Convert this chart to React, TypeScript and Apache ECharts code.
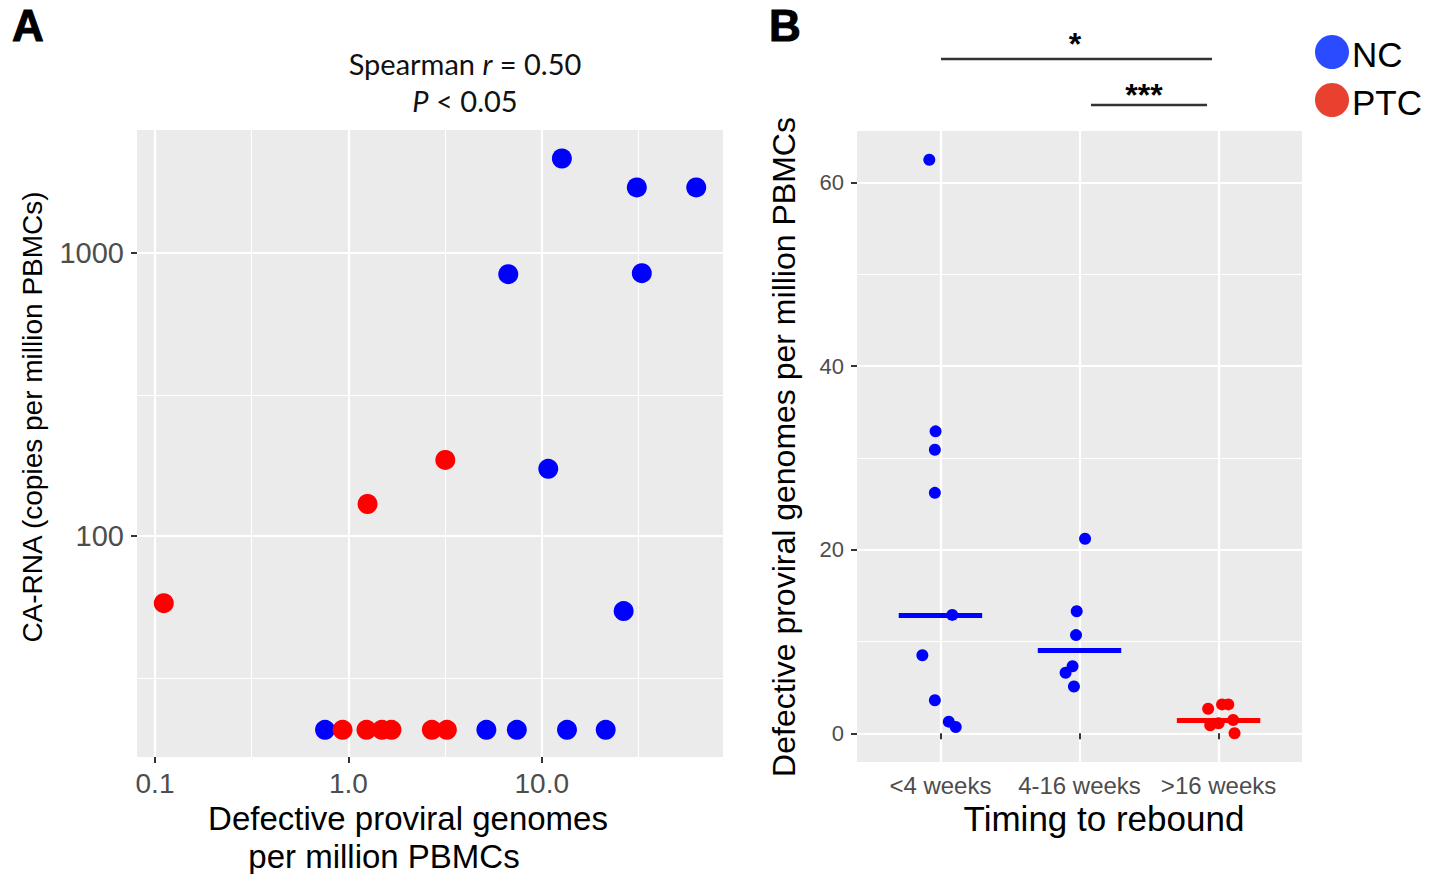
import React, { useEffect, useRef } from "react";
import * as echarts from "echarts";

// ---------- Panel A data ----------
const ncDefective = [12.7, 31, 62.9, 6.71, 32.9, 10.8, 26.5, 0.757, 5.17, 7.43, 13.5, 21.4];
const ncCaRna = [2160, 1707, 1707, 843, 850, 173, 54.4, 20.7, 20.7, 20.7, 20.7, 20.7];
const ptcDefective = [0.111, 1.256, 3.17, 0.933, 1.24, 1.49, 1.67, 2.7, 3.23];
const ptcCaRna = [58, 130, 186, 20.7, 20.7, 20.7, 20.7, 20.7, 20.7];
const xTicksA = [0.1, 1, 10];
const xMinorA = [0.316, 3.16, 31.6];
const yTicksA = [100, 1000];
const yMinorA = [31.6, 316];
const xRangeA = [0.0807, 86.5];
const yRangeA = [16.6, 2723];

// ---------- Panel B data ----------
const timingCategories = ["<4 weeks", "4-16 weeks", ">16 weeks"];
const ncGroup = [1, 1, 1, 1, 1, 1, 1, 1, 1, 2, 2, 2, 2, 2, 2];
const ncJitter = [-0.08, -0.035, -0.04, -0.04, 0.085, -0.13, -0.04, 0.06, 0.11, 0.04, -0.02, -0.025, -0.05, -0.1, -0.04];
const ncDefectiveB = [62.5, 32.9, 30.9, 26.2, 12.9, 8.5, 3.6, 1.27, 0.69, 21.2, 13.3, 10.7, 7.3, 6.6, 5.1];
const ptcGroup = [3, 3, 3, 3, 3, 3, 3];
const ptcJitter = [-0.075, 0.025, 0.07, -0.06, 0.0, 0.105, 0.115];
const ptcDefectiveB = [2.68, 3.15, 3.15, 0.87, 1.09, 1.45, 0.0];
const groupMedians = [12.9, 9.0, 1.45];
const xTicksB = [1, 2, 3];
const yTicksB = [0, 20, 40, 60];
const yMinorB = [10, 30, 50];
const xRangeB = [0.4, 3.6];
const yRangeB = [-3.125, 65.625];

const FONT = "'Liberation Sans', Arial, sans-serif";
const BLUE = "#0000FF";
const RED = "#FF0000";
const GRID_BG = "#EBEBEB";
const TICK_COLOR = "#4D4D4D";

function buildOption(): any {
  const majorSplit = { show: true, lineStyle: { color: "#FFFFFF", width: 2.2 } };
  const minorSplit = { show: true, lineStyle: { color: "#FFFFFF", width: 1.1 } };
  const tickStyle = { length: 6, lineStyle: { color: "#333333", width: 2 } };

  const medianLine = (i: number) => [
    { coord: [xTicksB[i] - 0.3, groupMedians[i]] },
    { coord: [xTicksB[i] + 0.3, groupMedians[i]] },
  ];

  return {
    animation: false,
    backgroundColor: "#FFFFFF",
    grid: [
      { left: 137, top: 130, width: 586, height: 627, show: true, backgroundColor: GRID_BG, borderWidth: 0, outerBoundsMode: "none" },
      { left: 857, top: 131, width: 445, height: 631, show: true, backgroundColor: GRID_BG, borderWidth: 0, outerBoundsMode: "none" },
    ],
    xAxis: [
      {
        gridIndex: 0, type: "log", logBase: 10, min: xRangeA[0], max: xRangeA[1],
        axisLine: { show: false },
        axisTick: { show: true, customValues: xTicksA, ...tickStyle },
        axisLabel: { customValues: xTicksA, formatter: (v: number) => Number(v).toFixed(1), fontSize: 28, color: TICK_COLOR, fontFamily: FONT, margin: 12 },
        splitLine: majorSplit, minorTick: { show: false }, minorSplitLine: { show: false },
      },
      {
        gridIndex: 0, type: "log", logBase: 10, position: "top", min: xRangeA[0], max: xRangeA[1],
        axisLine: { show: false },
        axisTick: { show: false, customValues: xMinorA },
        axisLabel: { show: false, customValues: xMinorA },
        splitLine: minorSplit,
      },
      {
        gridIndex: 1, type: "value", min: xRangeB[0], max: xRangeB[1],
        axisLine: { show: false },
        axisTick: { show: true, customValues: xTicksB, ...tickStyle },
        axisLabel: { customValues: xTicksB, formatter: (v: number) => timingCategories[Math.round(v) - 1], fontSize: 24, color: TICK_COLOR, fontFamily: FONT, margin: 11 },
        splitLine: majorSplit,
      },
    ],
    yAxis: [
      {
        gridIndex: 0, type: "log", logBase: 10, min: yRangeA[0], max: yRangeA[1],
        axisLine: { show: false },
        axisTick: { show: true, customValues: yTicksA, ...tickStyle },
        axisLabel: { customValues: yTicksA, formatter: (v: number) => String(Math.round(v)), fontSize: 29, color: TICK_COLOR, fontFamily: FONT, margin: 13 },
        splitLine: majorSplit,
      },
      {
        gridIndex: 0, type: "log", logBase: 10, position: "right", min: yRangeA[0], max: yRangeA[1],
        axisLine: { show: false },
        axisTick: { show: false, customValues: yMinorA },
        axisLabel: { show: false, customValues: yMinorA },
        splitLine: minorSplit,
      },
      {
        gridIndex: 1, type: "value", min: yRangeB[0], max: yRangeB[1],
        axisLine: { show: false },
        axisTick: { show: true, customValues: yTicksB, ...tickStyle },
        axisLabel: { customValues: yTicksB, formatter: (v: number) => String(Math.round(v)), fontSize: 22, color: TICK_COLOR, fontFamily: FONT, margin: 13 },
        splitLine: majorSplit,
      },
      {
        gridIndex: 1, type: "value", position: "right", min: yRangeB[0], max: yRangeB[1],
        axisLine: { show: false },
        axisTick: { show: false, customValues: yMinorB },
        axisLabel: { show: false, customValues: yMinorB },
        splitLine: minorSplit,
      },
    ],
    series: [
      {
        name: "NC", type: "scatter", xAxisIndex: 0, yAxisIndex: 0, symbolSize: 20,
        itemStyle: { color: BLUE, opacity: 1 },
        data: ncDefective.map((x, i) => [x, ncCaRna[i]]),
        z: 5,
      },
      {
        name: "PTC", type: "scatter", xAxisIndex: 0, yAxisIndex: 0, symbolSize: 20,
        itemStyle: { color: RED, opacity: 1 },
        data: ptcDefective.map((x, i) => [x, ptcCaRna[i]]),
        z: 5,
      },
      {
        name: "NC", type: "scatter", xAxisIndex: 2, yAxisIndex: 2, symbolSize: 12,
        itemStyle: { color: BLUE, opacity: 1 },
        data: ncGroup.map((g, i) => [g + ncJitter[i], ncDefectiveB[i]]),
        markLine: {
          silent: true, symbol: ["none", "none"], label: { show: false },
          lineStyle: { color: BLUE, width: 5, type: "solid" },
          data: [medianLine(0), medianLine(1)],
        },
        z: 5,
      },
      {
        name: "PTC", type: "scatter", xAxisIndex: 2, yAxisIndex: 2, symbolSize: 12,
        itemStyle: { color: RED, opacity: 1 },
        data: ptcGroup.map((g, i) => [g + ptcJitter[i], ptcDefectiveB[i]]),
        markLine: {
          silent: true, symbol: ["none", "none"], label: { show: false },
          lineStyle: { color: RED, width: 5, type: "solid" },
          data: [medianLine(2)],
        },
        z: 5,
      },
    ],
    graphic: [
      { type: "text", x: 12, y: 3, style: { text: "A", font: `900 44px ${FONT}`, fill: "#000", stroke: "#000", lineWidth: 1 } },
      { type: "text", x: 769, y: 3, style: { text: "B", font: `900 44px ${FONT}`, fill: "#000", stroke: "#000", lineWidth: 1 } },
      {
        type: "text", x: 465, y: 63,
        style: {
          text: "{n|Spearman }{i|r}{n| = 0.50}", align: "center", verticalAlign: "middle",
          rich: {
            n: { fontFamily: "Lato", fontSize: 29, fill: "#111" },
            i: { fontFamily: "Lato", fontSize: 29, fontStyle: "italic", fill: "#111" },
          },
        },
      },
      {
        type: "text", x: 465, y: 100,
        style: {
          text: "{i|P}{n| < 0.05}", align: "center", verticalAlign: "middle",
          rich: {
            n: { fontFamily: "Lato", fontSize: 29, fill: "#111" },
            i: { fontFamily: "Lato", fontSize: 29, fontStyle: "italic", fill: "#111" },
          },
        },
      },
      { type: "text", x: 408, y: 818, style: { text: "Defective proviral genomes", font: `33px ${FONT}`, fill: "#000", align: "center", verticalAlign: "middle" } },
      { type: "text", x: 384, y: 856, style: { text: "per million PBMCs", font: `33px ${FONT}`, fill: "#000", align: "center", verticalAlign: "middle" } },
      { type: "text", x: 32, y: 417, rotation: Math.PI / 2, style: { text: "CA-RNA (copies per million PBMCs)", font: `28px ${FONT}`, fill: "#000", align: "center", verticalAlign: "middle" } },
      { type: "text", x: 784, y: 447, rotation: Math.PI / 2, style: { text: "Defective proviral genomes per million PBMCs", font: `32px ${FONT}`, fill: "#000", align: "center", verticalAlign: "middle" } },
      { type: "text", x: 1104, y: 818, style: { text: "Timing to rebound", font: `35px ${FONT}`, fill: "#000", align: "center", verticalAlign: "middle" } },
      { type: "line", shape: { x1: 941, y1: 59, x2: 1212, y2: 59 }, style: { stroke: "#333", lineWidth: 2.5 } },
      { type: "text", x: 1075, y: 44, style: { text: "*", font: `bold 32px ${FONT}`, fill: "#000", align: "center", verticalAlign: "middle" } },
      { type: "line", shape: { x1: 1091, y1: 105, x2: 1207, y2: 105 }, style: { stroke: "#333", lineWidth: 2.5 } },
      { type: "text", x: 1144, y: 95, style: { text: "***", font: `bold 32px ${FONT}`, fill: "#000", align: "center", verticalAlign: "middle" } },
      { type: "circle", shape: { cx: 1332, cy: 52, r: 17 }, style: { fill: "#2A4BFF" } },
      { type: "text", x: 1352, y: 54, style: { text: "NC", font: `35px ${FONT}`, fill: "#000", align: "left", verticalAlign: "middle" } },
      { type: "circle", shape: { cx: 1332, cy: 100, r: 17 }, style: { fill: "#E8412F" } },
      { type: "text", x: 1352, y: 102, style: { text: "PTC", font: `35px ${FONT}`, fill: "#000", align: "left", verticalAlign: "middle" } },
    ],
  };
}

export default function App() {
  const ref = useRef<HTMLDivElement>(null);
  useEffect(() => {
    if (!ref.current) return;
    const chart = echarts.init(ref.current, null, { renderer: "svg" });
    chart.setOption(buildOption());
    return () => chart.dispose();
  }, []);
  return (
    <div
      ref={ref}
      style={{ position: "fixed", left: 0, top: 0, width: 1429, height: 874, background: "#fff" }}
    />
  );
}
